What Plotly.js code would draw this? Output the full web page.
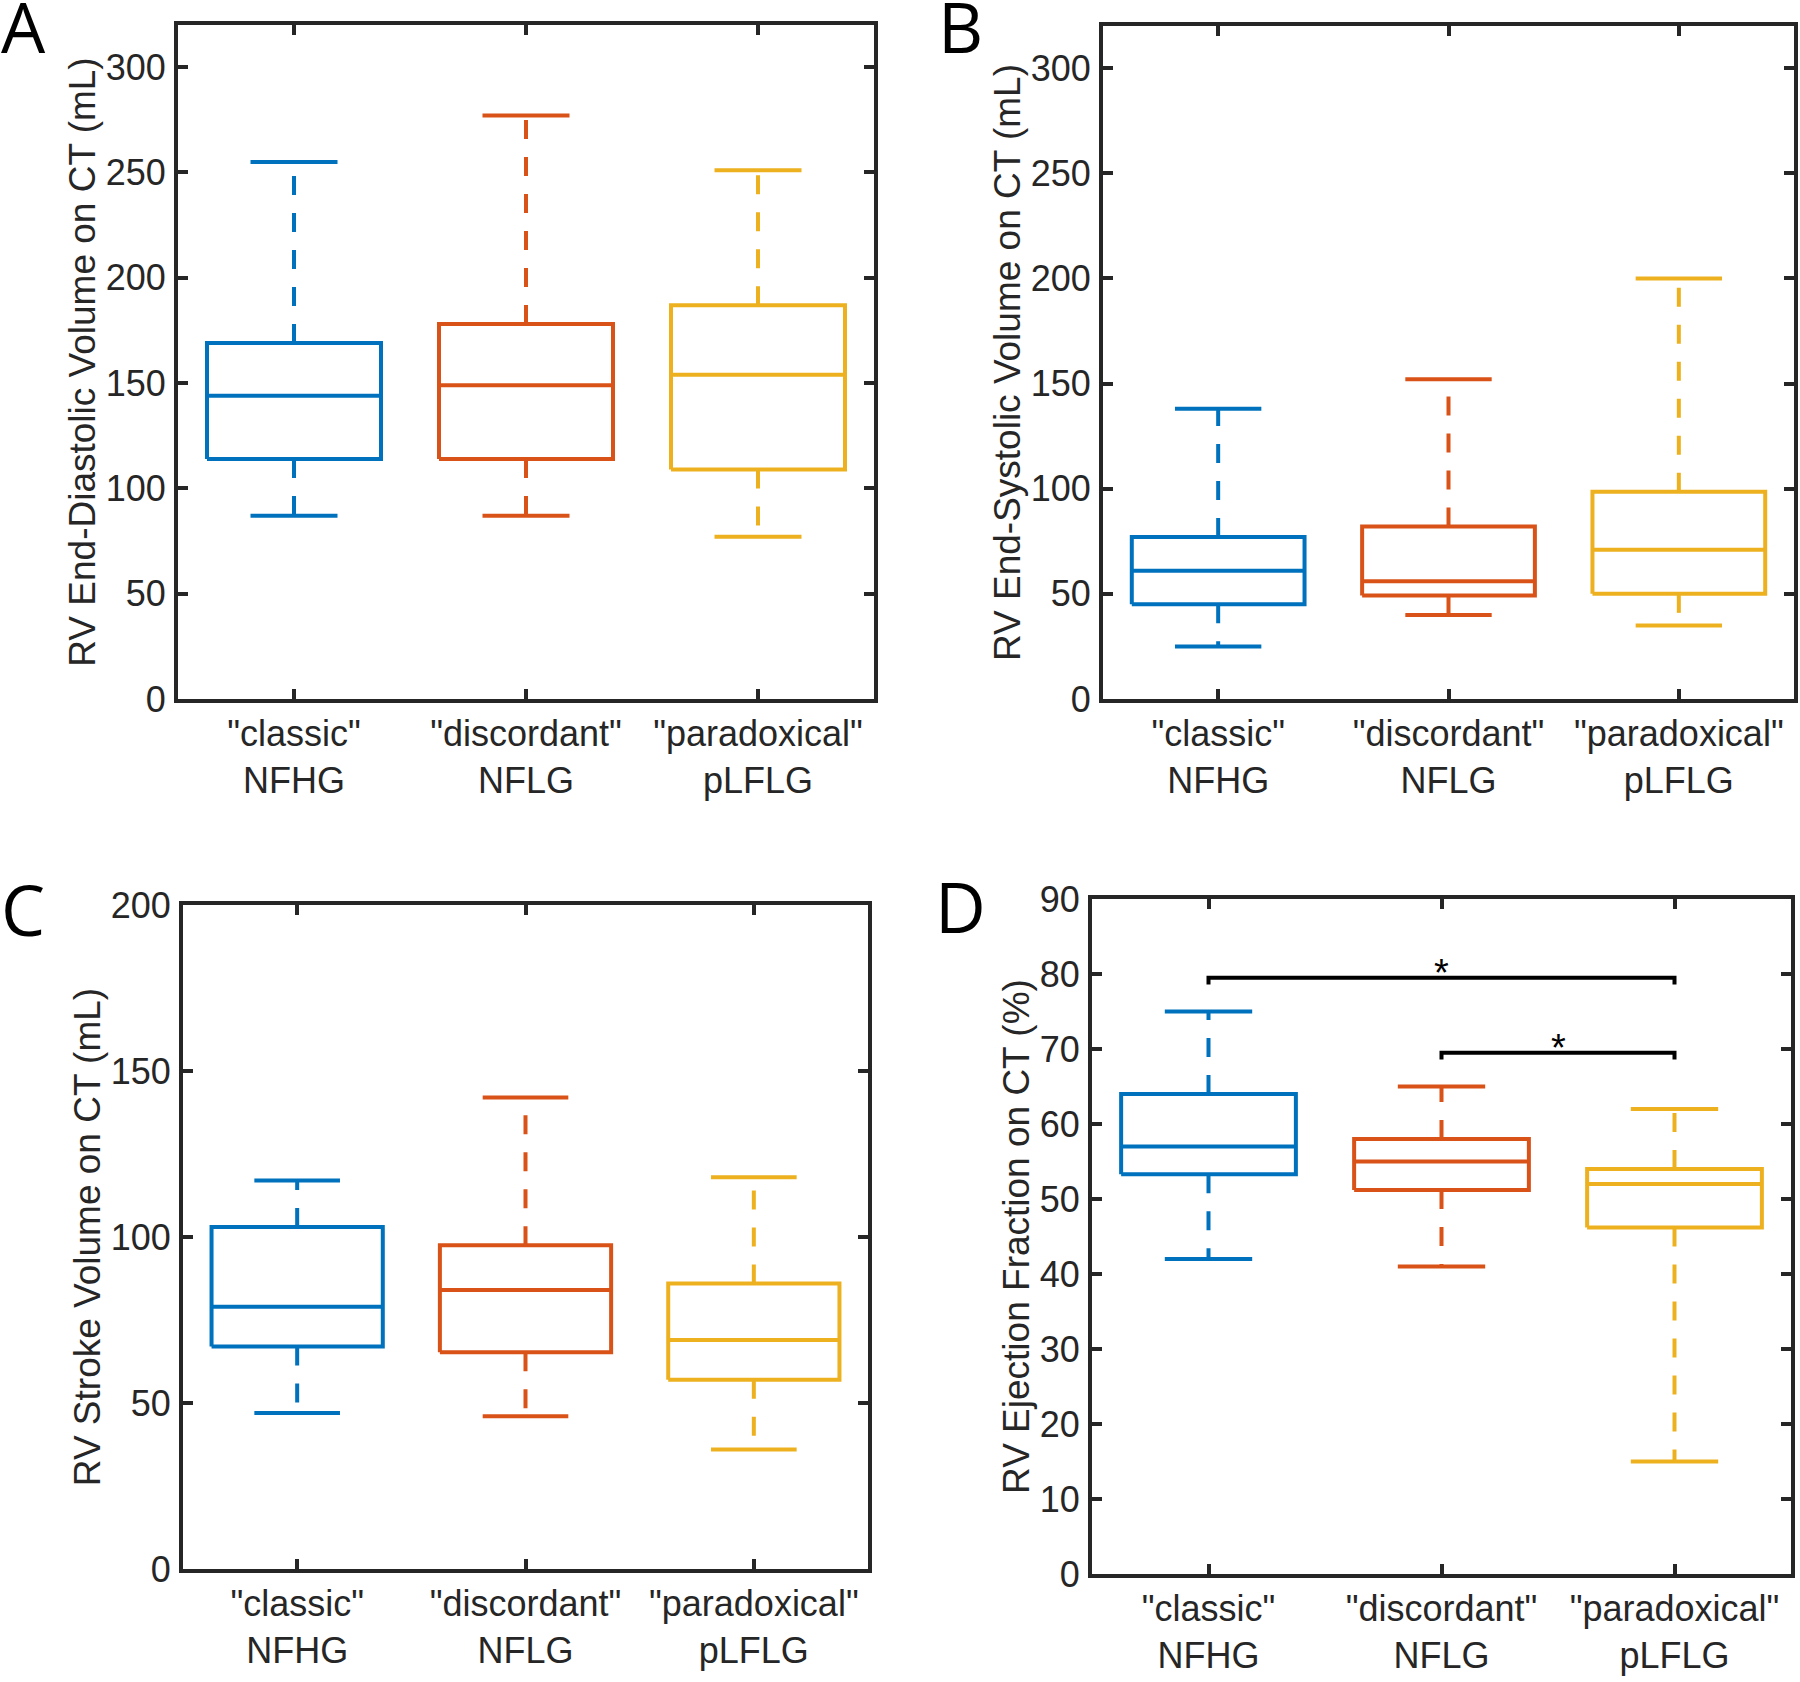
<!DOCTYPE html>
<html>
<head>
<meta charset="utf-8">
<script src="https://cdn.plot.ly/plotly-3.0.1.min.js"></script>
<style>html,body{margin:0;padding:0;background:#fff;}#chart{width:1800px;height:1682px;}</style>
</head>
<body>
<div id="chart"></div>
<script>
// ---------- data ----------
const groups = ['"classic"<br>NFHG', '"discordant"<br>NFLG', '"paradoxical"<br>pLFLG'];
const groupPos = [1, 2, 3];

// A: RV end-diastolic volume (mL)
const edvUpper  = [255, 277, 251];
const edvQ3     = [169, 178, 187];
const edvMedian = [144, 149, 154];
const edvQ1     = [114, 114, 109];
const edvLower  = [87, 87, 77];

// B: RV end-systolic volume (mL)
const esvUpper  = [138, 152, 200];
const esvQ3     = [77, 82, 98.6];
const esvMedian = [61, 56, 71];
const esvQ1     = [45, 49.2, 50];
const esvLower  = [25, 40, 35];

// C: RV stroke volume (mL)
const svUpper  = [117, 142, 118];
const svQ3     = [103, 97.5, 86];
const svMedian = [79, 84, 69];
const svQ1     = [67, 65.3, 57];
const svLower  = [47, 46, 36];

// D: RV ejection fraction (%)
const efUpper  = [75, 65, 62];
const efQ3     = [64, 58, 54];
const efMedian = [57, 55, 52];
const efQ1     = [53.3, 51.2, 46.2];
const efLower  = [42, 41, 15];

// significance brackets in D
const sigFrom   = [1, 2];
const sigTo     = [3, 3];
const sigLevel  = [79.5, 69.5];
const sigLabel  = ['*', '*'];

// ---------- styles ----------
const colors = ['#0072BD', '#D95319', '#EDB120'];
const axisColor = '#262626';
const font = 'Liberation Sans, Arial, Helvetica, sans-serif';
const boxHalf = 0.375, capHalf = 0.1875, lw = 4;

const traces = [];
function addBoxes(xa, ya, up, q3, med, q1, lo) {
  for (let i = 0; i < groupPos.length; i++) {
    const x = groupPos[i], c = colors[i];
    // box outline + median + caps (solid)
    traces.push({
      type: 'scatter', mode: 'lines', xaxis: xa, yaxis: ya, hoverinfo: 'skip', showlegend: false,
      x: [x - boxHalf, x + boxHalf, x + boxHalf, x - boxHalf, x - boxHalf, null,
          x - boxHalf, x + boxHalf, null,
          x - capHalf, x + capHalf, null,
          x - capHalf, x + capHalf],
      y: [q1[i], q1[i], q3[i], q3[i], q1[i], null,
          med[i], med[i], null,
          up[i], up[i], null,
          lo[i], lo[i]],
      line: {color: c, width: lw}
    });
    // whiskers (dashed), drawn from box edge outward
    traces.push({
      type: 'scatter', mode: 'lines', xaxis: xa, yaxis: ya, hoverinfo: 'skip', showlegend: false,
      x: [x, x], y: [q3[i], up[i]],
      line: {color: c, width: lw, dash: '19px,18px'}
    });
    traces.push({
      type: 'scatter', mode: 'lines', xaxis: xa, yaxis: ya, hoverinfo: 'skip', showlegend: false,
      x: [x, x], y: [q1[i], lo[i]],
      line: {color: c, width: lw, dash: '19px,18px'}
    });
  }
}
addBoxes('x', 'y', edvUpper, edvQ3, edvMedian, edvQ1, edvLower);
addBoxes('x2', 'y2', esvUpper, esvQ3, esvMedian, esvQ1, esvLower);
addBoxes('x3', 'y3', svUpper, svQ3, svMedian, svQ1, svLower);
addBoxes('x4', 'y4', efUpper, efQ3, efMedian, efQ1, efLower);

// significance brackets
const annotations = [];
for (let k = 0; k < sigFrom.length; k++) {
  traces.push({
    type: 'scatter', mode: 'lines', xaxis: 'x4', yaxis: 'y4', hoverinfo: 'skip', showlegend: false,
    x: [sigFrom[k], sigFrom[k], sigTo[k], sigTo[k]],
    y: [sigLevel[k] - 0.9, sigLevel[k], sigLevel[k], sigLevel[k] - 0.9],
    line: {color: '#000000', width: 4}
  });
  annotations.push({
    xref: 'x4', yref: 'y4', x: (sigFrom[k] + sigTo[k]) / 2, y: sigLevel[k],
    text: sigLabel[k], showarrow: false, xanchor: 'center', yanchor: 'bottom', yshift: -18,
    font: {family: font, size: 38, color: '#000000'}
  });
}

// panel letters
const letterFont = {family: 'Open Sans, Noto Sans, sans-serif', size: 70, color: '#000000'};
const letters = [['A', 23, 30], ['B', 960, 30], ['C', 22.5, 913], ['D', 960.5, 910]];
letters.forEach(function (L) {
  annotations.push({
    xref: 'paper', yref: 'paper', x: L[1] / 1800, y: 1 - L[2] / 1682,
    text: L[0], showarrow: false, xanchor: 'center', yanchor: 'middle', yshift: 4,
    font: letterFont
  });
});

function xAxis(domain, anchor) {
  return {
    domain: domain, anchor: anchor, range: [0.5, 3.5],
    tickmode: 'array', tickvals: groupPos, ticktext: groups,
    ticks: 'inside', ticklen: 10, tickwidth: 4, tickcolor: axisColor,
    showline: true, linewidth: 4, linecolor: axisColor, mirror: 'ticks',
    showgrid: false, zeroline: false, ticklabelstandoff: 0,
    tickfont: {family: font, size: 36, color: axisColor}
  };
}
function yAxis(domain, anchor, range, dtick, title) {
  return {
    domain: domain, anchor: anchor, range: range,
    tickmode: 'linear', tick0: 0, dtick: dtick,
    ticks: 'inside', ticklen: 10, tickwidth: 4, tickcolor: axisColor,
    showline: true, linewidth: 4, linecolor: axisColor, mirror: 'ticks',
    showgrid: false, zeroline: false, ticklabelstandoff: 1,
    tickfont: {family: font, size: 36, color: axisColor},
    title: {text: title, font: {family: font, size: 37, color: axisColor}, standoff: 0}
  };
}

const W = 1800, H = 1682;
function dx(l, r) { return [l / W, r / W]; }
function dy(t, b) { return [1 - b / H, 1 - t / H]; }

const layout = {
  width: W, height: H,
  margin: {l: 0, r: 0, t: 0, b: 0},
  paper_bgcolor: '#ffffff', plot_bgcolor: '#ffffff',
  showlegend: false,
  xaxis:  xAxis(dx(178, 874), 'y'),
  yaxis:  yAxis(dy(25, 699), 'x', [0, 320], 50, 'RV End-Diastolic Volume on CT (mL)'),
  xaxis2: xAxis(dx(1103, 1794), 'y2'),
  yaxis2: yAxis(dy(26, 699), 'x2', [0, 320], 50, 'RV End-Systolic Volume on CT (mL)'),
  xaxis3: xAxis(dx(183, 868), 'y3'),
  yaxis3: yAxis(dy(905, 1569), 'x3', [0, 200], 50, 'RV Stroke Volume on CT (mL)'),
  xaxis4: xAxis(dx(1092, 1791), 'y4'),
  yaxis4: yAxis(dy(899, 1574), 'x4', [0, 90], 10, 'RV Ejection Fraction on CT (%)'),
  annotations: annotations
};

Plotly.newPlot('chart', traces, layout, {staticPlot: true});
</script>
</body>
</html>
